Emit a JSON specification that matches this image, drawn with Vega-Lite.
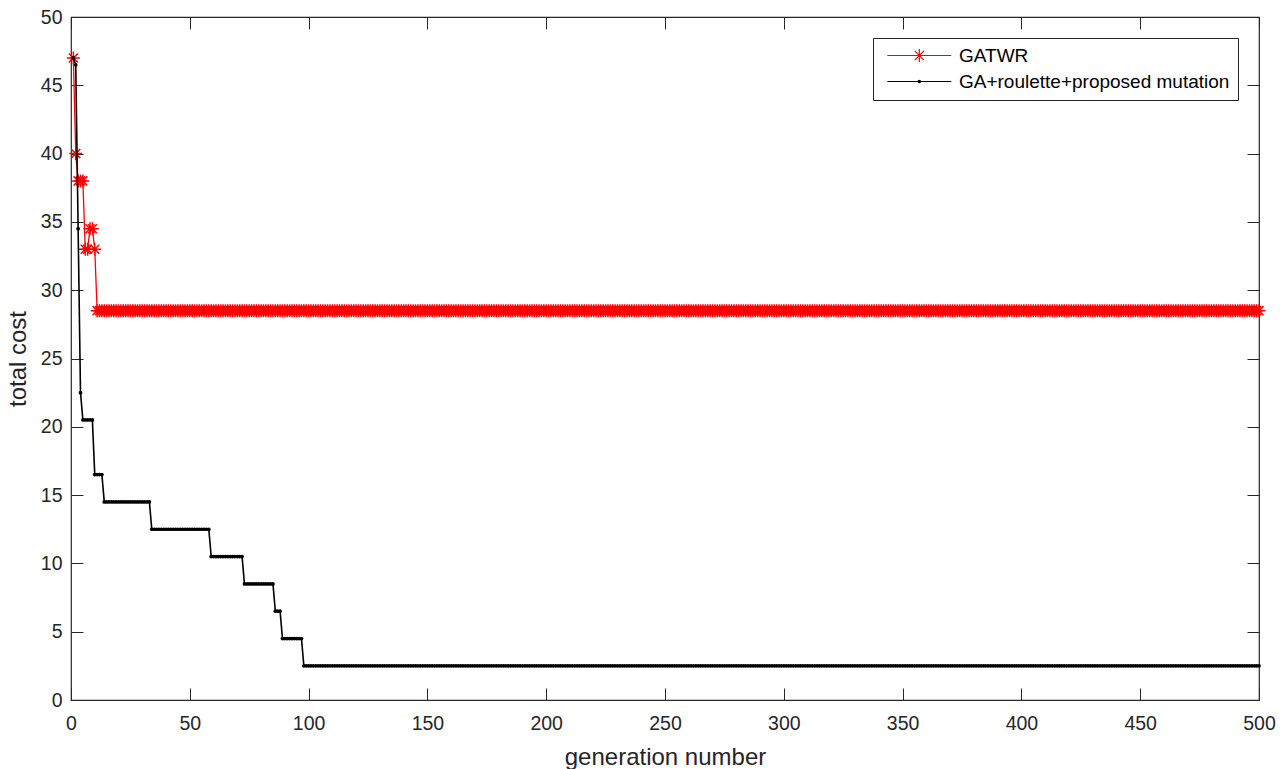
{
"$schema": "https://vega.github.io/schema/vega-lite/v6.json",
"width": 1188, "height": 683,
"autosize": {"type": "none"},
"padding": {"left": 71, "top": 17, "right": 26, "bottom": 69},
"background": "white",
"config": {
 "font": "Liberation Sans",
 "view": {"stroke": "#262626", "strokeWidth": 1.2},
 "axis": {"grid": false, "domain": false, "tickColor": "#262626", "tickSize": -12, "tickWidth": 1, "labelFont": "Liberation Sans", "labelFontSize": 19.5, "labelColor": "#262626", "titleFont": "Liberation Sans", "titleFontSize": 24, "titleColor": "#262626", "titleFontWeight": "normal", "labelFlush": false, "labelOverlap": false, "labelBound": false}
},
"datasets": {
 "series": [{"s": "GATWR"}, {"s": "GA+roulette+proposed mutation"}],
 "gen": [
{"g":1,"a":47,"b":47},{"g":2,"a":40,"b":46.5},{"g":3,"a":38,"b":34.5},{"g":4,"a":38,"b":22.5},{"g":5,"a":38,"b":20.5},{"g":6,"a":33,"b":20.5},{"g":7,"a":33,"b":20.5},{"g":8,"a":34.5,"b":20.5},{"g":9,"a":34.5,"b":20.5},{"g":10,"a":33,"b":16.5},
{"g":11,"a":28.5,"b":16.5},{"g":12,"a":28.5,"b":16.5},{"g":13,"a":28.5,"b":16.5},{"g":14,"a":28.5,"b":14.5},{"g":15,"a":28.5,"b":14.5},{"g":16,"a":28.5,"b":14.5},{"g":17,"a":28.5,"b":14.5},{"g":18,"a":28.5,"b":14.5},{"g":19,"a":28.5,"b":14.5},{"g":20,"a":28.5,"b":14.5},
{"g":21,"a":28.5,"b":14.5},{"g":22,"a":28.5,"b":14.5},{"g":23,"a":28.5,"b":14.5},{"g":24,"a":28.5,"b":14.5},{"g":25,"a":28.5,"b":14.5},{"g":26,"a":28.5,"b":14.5},{"g":27,"a":28.5,"b":14.5},{"g":28,"a":28.5,"b":14.5},{"g":29,"a":28.5,"b":14.5},{"g":30,"a":28.5,"b":14.5},
{"g":31,"a":28.5,"b":14.5},{"g":32,"a":28.5,"b":14.5},{"g":33,"a":28.5,"b":14.5},{"g":34,"a":28.5,"b":12.5},{"g":35,"a":28.5,"b":12.5},{"g":36,"a":28.5,"b":12.5},{"g":37,"a":28.5,"b":12.5},{"g":38,"a":28.5,"b":12.5},{"g":39,"a":28.5,"b":12.5},{"g":40,"a":28.5,"b":12.5},
{"g":41,"a":28.5,"b":12.5},{"g":42,"a":28.5,"b":12.5},{"g":43,"a":28.5,"b":12.5},{"g":44,"a":28.5,"b":12.5},{"g":45,"a":28.5,"b":12.5},{"g":46,"a":28.5,"b":12.5},{"g":47,"a":28.5,"b":12.5},{"g":48,"a":28.5,"b":12.5},{"g":49,"a":28.5,"b":12.5},{"g":50,"a":28.5,"b":12.5},
{"g":51,"a":28.5,"b":12.5},{"g":52,"a":28.5,"b":12.5},{"g":53,"a":28.5,"b":12.5},{"g":54,"a":28.5,"b":12.5},{"g":55,"a":28.5,"b":12.5},{"g":56,"a":28.5,"b":12.5},{"g":57,"a":28.5,"b":12.5},{"g":58,"a":28.5,"b":12.5},{"g":59,"a":28.5,"b":10.5},{"g":60,"a":28.5,"b":10.5},
{"g":61,"a":28.5,"b":10.5},{"g":62,"a":28.5,"b":10.5},{"g":63,"a":28.5,"b":10.5},{"g":64,"a":28.5,"b":10.5},{"g":65,"a":28.5,"b":10.5},{"g":66,"a":28.5,"b":10.5},{"g":67,"a":28.5,"b":10.5},{"g":68,"a":28.5,"b":10.5},{"g":69,"a":28.5,"b":10.5},{"g":70,"a":28.5,"b":10.5},
{"g":71,"a":28.5,"b":10.5},{"g":72,"a":28.5,"b":10.5},{"g":73,"a":28.5,"b":8.5},{"g":74,"a":28.5,"b":8.5},{"g":75,"a":28.5,"b":8.5},{"g":76,"a":28.5,"b":8.5},{"g":77,"a":28.5,"b":8.5},{"g":78,"a":28.5,"b":8.5},{"g":79,"a":28.5,"b":8.5},{"g":80,"a":28.5,"b":8.5},
{"g":81,"a":28.5,"b":8.5},{"g":82,"a":28.5,"b":8.5},{"g":83,"a":28.5,"b":8.5},{"g":84,"a":28.5,"b":8.5},{"g":85,"a":28.5,"b":8.5},{"g":86,"a":28.5,"b":6.5},{"g":87,"a":28.5,"b":6.5},{"g":88,"a":28.5,"b":6.5},{"g":89,"a":28.5,"b":4.5},{"g":90,"a":28.5,"b":4.5},
{"g":91,"a":28.5,"b":4.5},{"g":92,"a":28.5,"b":4.5},{"g":93,"a":28.5,"b":4.5},{"g":94,"a":28.5,"b":4.5},{"g":95,"a":28.5,"b":4.5},{"g":96,"a":28.5,"b":4.5},{"g":97,"a":28.5,"b":4.5},{"g":98,"a":28.5,"b":2.5},{"g":99,"a":28.5,"b":2.5},{"g":100,"a":28.5,"b":2.5},
{"g":101,"a":28.5,"b":2.5},{"g":102,"a":28.5,"b":2.5},{"g":103,"a":28.5,"b":2.5},{"g":104,"a":28.5,"b":2.5},{"g":105,"a":28.5,"b":2.5},{"g":106,"a":28.5,"b":2.5},{"g":107,"a":28.5,"b":2.5},{"g":108,"a":28.5,"b":2.5},{"g":109,"a":28.5,"b":2.5},{"g":110,"a":28.5,"b":2.5},
{"g":111,"a":28.5,"b":2.5},{"g":112,"a":28.5,"b":2.5},{"g":113,"a":28.5,"b":2.5},{"g":114,"a":28.5,"b":2.5},{"g":115,"a":28.5,"b":2.5},{"g":116,"a":28.5,"b":2.5},{"g":117,"a":28.5,"b":2.5},{"g":118,"a":28.5,"b":2.5},{"g":119,"a":28.5,"b":2.5},{"g":120,"a":28.5,"b":2.5},
{"g":121,"a":28.5,"b":2.5},{"g":122,"a":28.5,"b":2.5},{"g":123,"a":28.5,"b":2.5},{"g":124,"a":28.5,"b":2.5},{"g":125,"a":28.5,"b":2.5},{"g":126,"a":28.5,"b":2.5},{"g":127,"a":28.5,"b":2.5},{"g":128,"a":28.5,"b":2.5},{"g":129,"a":28.5,"b":2.5},{"g":130,"a":28.5,"b":2.5},
{"g":131,"a":28.5,"b":2.5},{"g":132,"a":28.5,"b":2.5},{"g":133,"a":28.5,"b":2.5},{"g":134,"a":28.5,"b":2.5},{"g":135,"a":28.5,"b":2.5},{"g":136,"a":28.5,"b":2.5},{"g":137,"a":28.5,"b":2.5},{"g":138,"a":28.5,"b":2.5},{"g":139,"a":28.5,"b":2.5},{"g":140,"a":28.5,"b":2.5},
{"g":141,"a":28.5,"b":2.5},{"g":142,"a":28.5,"b":2.5},{"g":143,"a":28.5,"b":2.5},{"g":144,"a":28.5,"b":2.5},{"g":145,"a":28.5,"b":2.5},{"g":146,"a":28.5,"b":2.5},{"g":147,"a":28.5,"b":2.5},{"g":148,"a":28.5,"b":2.5},{"g":149,"a":28.5,"b":2.5},{"g":150,"a":28.5,"b":2.5},
{"g":151,"a":28.5,"b":2.5},{"g":152,"a":28.5,"b":2.5},{"g":153,"a":28.5,"b":2.5},{"g":154,"a":28.5,"b":2.5},{"g":155,"a":28.5,"b":2.5},{"g":156,"a":28.5,"b":2.5},{"g":157,"a":28.5,"b":2.5},{"g":158,"a":28.5,"b":2.5},{"g":159,"a":28.5,"b":2.5},{"g":160,"a":28.5,"b":2.5},
{"g":161,"a":28.5,"b":2.5},{"g":162,"a":28.5,"b":2.5},{"g":163,"a":28.5,"b":2.5},{"g":164,"a":28.5,"b":2.5},{"g":165,"a":28.5,"b":2.5},{"g":166,"a":28.5,"b":2.5},{"g":167,"a":28.5,"b":2.5},{"g":168,"a":28.5,"b":2.5},{"g":169,"a":28.5,"b":2.5},{"g":170,"a":28.5,"b":2.5},
{"g":171,"a":28.5,"b":2.5},{"g":172,"a":28.5,"b":2.5},{"g":173,"a":28.5,"b":2.5},{"g":174,"a":28.5,"b":2.5},{"g":175,"a":28.5,"b":2.5},{"g":176,"a":28.5,"b":2.5},{"g":177,"a":28.5,"b":2.5},{"g":178,"a":28.5,"b":2.5},{"g":179,"a":28.5,"b":2.5},{"g":180,"a":28.5,"b":2.5},
{"g":181,"a":28.5,"b":2.5},{"g":182,"a":28.5,"b":2.5},{"g":183,"a":28.5,"b":2.5},{"g":184,"a":28.5,"b":2.5},{"g":185,"a":28.5,"b":2.5},{"g":186,"a":28.5,"b":2.5},{"g":187,"a":28.5,"b":2.5},{"g":188,"a":28.5,"b":2.5},{"g":189,"a":28.5,"b":2.5},{"g":190,"a":28.5,"b":2.5},
{"g":191,"a":28.5,"b":2.5},{"g":192,"a":28.5,"b":2.5},{"g":193,"a":28.5,"b":2.5},{"g":194,"a":28.5,"b":2.5},{"g":195,"a":28.5,"b":2.5},{"g":196,"a":28.5,"b":2.5},{"g":197,"a":28.5,"b":2.5},{"g":198,"a":28.5,"b":2.5},{"g":199,"a":28.5,"b":2.5},{"g":200,"a":28.5,"b":2.5},
{"g":201,"a":28.5,"b":2.5},{"g":202,"a":28.5,"b":2.5},{"g":203,"a":28.5,"b":2.5},{"g":204,"a":28.5,"b":2.5},{"g":205,"a":28.5,"b":2.5},{"g":206,"a":28.5,"b":2.5},{"g":207,"a":28.5,"b":2.5},{"g":208,"a":28.5,"b":2.5},{"g":209,"a":28.5,"b":2.5},{"g":210,"a":28.5,"b":2.5},
{"g":211,"a":28.5,"b":2.5},{"g":212,"a":28.5,"b":2.5},{"g":213,"a":28.5,"b":2.5},{"g":214,"a":28.5,"b":2.5},{"g":215,"a":28.5,"b":2.5},{"g":216,"a":28.5,"b":2.5},{"g":217,"a":28.5,"b":2.5},{"g":218,"a":28.5,"b":2.5},{"g":219,"a":28.5,"b":2.5},{"g":220,"a":28.5,"b":2.5},
{"g":221,"a":28.5,"b":2.5},{"g":222,"a":28.5,"b":2.5},{"g":223,"a":28.5,"b":2.5},{"g":224,"a":28.5,"b":2.5},{"g":225,"a":28.5,"b":2.5},{"g":226,"a":28.5,"b":2.5},{"g":227,"a":28.5,"b":2.5},{"g":228,"a":28.5,"b":2.5},{"g":229,"a":28.5,"b":2.5},{"g":230,"a":28.5,"b":2.5},
{"g":231,"a":28.5,"b":2.5},{"g":232,"a":28.5,"b":2.5},{"g":233,"a":28.5,"b":2.5},{"g":234,"a":28.5,"b":2.5},{"g":235,"a":28.5,"b":2.5},{"g":236,"a":28.5,"b":2.5},{"g":237,"a":28.5,"b":2.5},{"g":238,"a":28.5,"b":2.5},{"g":239,"a":28.5,"b":2.5},{"g":240,"a":28.5,"b":2.5},
{"g":241,"a":28.5,"b":2.5},{"g":242,"a":28.5,"b":2.5},{"g":243,"a":28.5,"b":2.5},{"g":244,"a":28.5,"b":2.5},{"g":245,"a":28.5,"b":2.5},{"g":246,"a":28.5,"b":2.5},{"g":247,"a":28.5,"b":2.5},{"g":248,"a":28.5,"b":2.5},{"g":249,"a":28.5,"b":2.5},{"g":250,"a":28.5,"b":2.5},
{"g":251,"a":28.5,"b":2.5},{"g":252,"a":28.5,"b":2.5},{"g":253,"a":28.5,"b":2.5},{"g":254,"a":28.5,"b":2.5},{"g":255,"a":28.5,"b":2.5},{"g":256,"a":28.5,"b":2.5},{"g":257,"a":28.5,"b":2.5},{"g":258,"a":28.5,"b":2.5},{"g":259,"a":28.5,"b":2.5},{"g":260,"a":28.5,"b":2.5},
{"g":261,"a":28.5,"b":2.5},{"g":262,"a":28.5,"b":2.5},{"g":263,"a":28.5,"b":2.5},{"g":264,"a":28.5,"b":2.5},{"g":265,"a":28.5,"b":2.5},{"g":266,"a":28.5,"b":2.5},{"g":267,"a":28.5,"b":2.5},{"g":268,"a":28.5,"b":2.5},{"g":269,"a":28.5,"b":2.5},{"g":270,"a":28.5,"b":2.5},
{"g":271,"a":28.5,"b":2.5},{"g":272,"a":28.5,"b":2.5},{"g":273,"a":28.5,"b":2.5},{"g":274,"a":28.5,"b":2.5},{"g":275,"a":28.5,"b":2.5},{"g":276,"a":28.5,"b":2.5},{"g":277,"a":28.5,"b":2.5},{"g":278,"a":28.5,"b":2.5},{"g":279,"a":28.5,"b":2.5},{"g":280,"a":28.5,"b":2.5},
{"g":281,"a":28.5,"b":2.5},{"g":282,"a":28.5,"b":2.5},{"g":283,"a":28.5,"b":2.5},{"g":284,"a":28.5,"b":2.5},{"g":285,"a":28.5,"b":2.5},{"g":286,"a":28.5,"b":2.5},{"g":287,"a":28.5,"b":2.5},{"g":288,"a":28.5,"b":2.5},{"g":289,"a":28.5,"b":2.5},{"g":290,"a":28.5,"b":2.5},
{"g":291,"a":28.5,"b":2.5},{"g":292,"a":28.5,"b":2.5},{"g":293,"a":28.5,"b":2.5},{"g":294,"a":28.5,"b":2.5},{"g":295,"a":28.5,"b":2.5},{"g":296,"a":28.5,"b":2.5},{"g":297,"a":28.5,"b":2.5},{"g":298,"a":28.5,"b":2.5},{"g":299,"a":28.5,"b":2.5},{"g":300,"a":28.5,"b":2.5},
{"g":301,"a":28.5,"b":2.5},{"g":302,"a":28.5,"b":2.5},{"g":303,"a":28.5,"b":2.5},{"g":304,"a":28.5,"b":2.5},{"g":305,"a":28.5,"b":2.5},{"g":306,"a":28.5,"b":2.5},{"g":307,"a":28.5,"b":2.5},{"g":308,"a":28.5,"b":2.5},{"g":309,"a":28.5,"b":2.5},{"g":310,"a":28.5,"b":2.5},
{"g":311,"a":28.5,"b":2.5},{"g":312,"a":28.5,"b":2.5},{"g":313,"a":28.5,"b":2.5},{"g":314,"a":28.5,"b":2.5},{"g":315,"a":28.5,"b":2.5},{"g":316,"a":28.5,"b":2.5},{"g":317,"a":28.5,"b":2.5},{"g":318,"a":28.5,"b":2.5},{"g":319,"a":28.5,"b":2.5},{"g":320,"a":28.5,"b":2.5},
{"g":321,"a":28.5,"b":2.5},{"g":322,"a":28.5,"b":2.5},{"g":323,"a":28.5,"b":2.5},{"g":324,"a":28.5,"b":2.5},{"g":325,"a":28.5,"b":2.5},{"g":326,"a":28.5,"b":2.5},{"g":327,"a":28.5,"b":2.5},{"g":328,"a":28.5,"b":2.5},{"g":329,"a":28.5,"b":2.5},{"g":330,"a":28.5,"b":2.5},
{"g":331,"a":28.5,"b":2.5},{"g":332,"a":28.5,"b":2.5},{"g":333,"a":28.5,"b":2.5},{"g":334,"a":28.5,"b":2.5},{"g":335,"a":28.5,"b":2.5},{"g":336,"a":28.5,"b":2.5},{"g":337,"a":28.5,"b":2.5},{"g":338,"a":28.5,"b":2.5},{"g":339,"a":28.5,"b":2.5},{"g":340,"a":28.5,"b":2.5},
{"g":341,"a":28.5,"b":2.5},{"g":342,"a":28.5,"b":2.5},{"g":343,"a":28.5,"b":2.5},{"g":344,"a":28.5,"b":2.5},{"g":345,"a":28.5,"b":2.5},{"g":346,"a":28.5,"b":2.5},{"g":347,"a":28.5,"b":2.5},{"g":348,"a":28.5,"b":2.5},{"g":349,"a":28.5,"b":2.5},{"g":350,"a":28.5,"b":2.5},
{"g":351,"a":28.5,"b":2.5},{"g":352,"a":28.5,"b":2.5},{"g":353,"a":28.5,"b":2.5},{"g":354,"a":28.5,"b":2.5},{"g":355,"a":28.5,"b":2.5},{"g":356,"a":28.5,"b":2.5},{"g":357,"a":28.5,"b":2.5},{"g":358,"a":28.5,"b":2.5},{"g":359,"a":28.5,"b":2.5},{"g":360,"a":28.5,"b":2.5},
{"g":361,"a":28.5,"b":2.5},{"g":362,"a":28.5,"b":2.5},{"g":363,"a":28.5,"b":2.5},{"g":364,"a":28.5,"b":2.5},{"g":365,"a":28.5,"b":2.5},{"g":366,"a":28.5,"b":2.5},{"g":367,"a":28.5,"b":2.5},{"g":368,"a":28.5,"b":2.5},{"g":369,"a":28.5,"b":2.5},{"g":370,"a":28.5,"b":2.5},
{"g":371,"a":28.5,"b":2.5},{"g":372,"a":28.5,"b":2.5},{"g":373,"a":28.5,"b":2.5},{"g":374,"a":28.5,"b":2.5},{"g":375,"a":28.5,"b":2.5},{"g":376,"a":28.5,"b":2.5},{"g":377,"a":28.5,"b":2.5},{"g":378,"a":28.5,"b":2.5},{"g":379,"a":28.5,"b":2.5},{"g":380,"a":28.5,"b":2.5},
{"g":381,"a":28.5,"b":2.5},{"g":382,"a":28.5,"b":2.5},{"g":383,"a":28.5,"b":2.5},{"g":384,"a":28.5,"b":2.5},{"g":385,"a":28.5,"b":2.5},{"g":386,"a":28.5,"b":2.5},{"g":387,"a":28.5,"b":2.5},{"g":388,"a":28.5,"b":2.5},{"g":389,"a":28.5,"b":2.5},{"g":390,"a":28.5,"b":2.5},
{"g":391,"a":28.5,"b":2.5},{"g":392,"a":28.5,"b":2.5},{"g":393,"a":28.5,"b":2.5},{"g":394,"a":28.5,"b":2.5},{"g":395,"a":28.5,"b":2.5},{"g":396,"a":28.5,"b":2.5},{"g":397,"a":28.5,"b":2.5},{"g":398,"a":28.5,"b":2.5},{"g":399,"a":28.5,"b":2.5},{"g":400,"a":28.5,"b":2.5},
{"g":401,"a":28.5,"b":2.5},{"g":402,"a":28.5,"b":2.5},{"g":403,"a":28.5,"b":2.5},{"g":404,"a":28.5,"b":2.5},{"g":405,"a":28.5,"b":2.5},{"g":406,"a":28.5,"b":2.5},{"g":407,"a":28.5,"b":2.5},{"g":408,"a":28.5,"b":2.5},{"g":409,"a":28.5,"b":2.5},{"g":410,"a":28.5,"b":2.5},
{"g":411,"a":28.5,"b":2.5},{"g":412,"a":28.5,"b":2.5},{"g":413,"a":28.5,"b":2.5},{"g":414,"a":28.5,"b":2.5},{"g":415,"a":28.5,"b":2.5},{"g":416,"a":28.5,"b":2.5},{"g":417,"a":28.5,"b":2.5},{"g":418,"a":28.5,"b":2.5},{"g":419,"a":28.5,"b":2.5},{"g":420,"a":28.5,"b":2.5},
{"g":421,"a":28.5,"b":2.5},{"g":422,"a":28.5,"b":2.5},{"g":423,"a":28.5,"b":2.5},{"g":424,"a":28.5,"b":2.5},{"g":425,"a":28.5,"b":2.5},{"g":426,"a":28.5,"b":2.5},{"g":427,"a":28.5,"b":2.5},{"g":428,"a":28.5,"b":2.5},{"g":429,"a":28.5,"b":2.5},{"g":430,"a":28.5,"b":2.5},
{"g":431,"a":28.5,"b":2.5},{"g":432,"a":28.5,"b":2.5},{"g":433,"a":28.5,"b":2.5},{"g":434,"a":28.5,"b":2.5},{"g":435,"a":28.5,"b":2.5},{"g":436,"a":28.5,"b":2.5},{"g":437,"a":28.5,"b":2.5},{"g":438,"a":28.5,"b":2.5},{"g":439,"a":28.5,"b":2.5},{"g":440,"a":28.5,"b":2.5},
{"g":441,"a":28.5,"b":2.5},{"g":442,"a":28.5,"b":2.5},{"g":443,"a":28.5,"b":2.5},{"g":444,"a":28.5,"b":2.5},{"g":445,"a":28.5,"b":2.5},{"g":446,"a":28.5,"b":2.5},{"g":447,"a":28.5,"b":2.5},{"g":448,"a":28.5,"b":2.5},{"g":449,"a":28.5,"b":2.5},{"g":450,"a":28.5,"b":2.5},
{"g":451,"a":28.5,"b":2.5},{"g":452,"a":28.5,"b":2.5},{"g":453,"a":28.5,"b":2.5},{"g":454,"a":28.5,"b":2.5},{"g":455,"a":28.5,"b":2.5},{"g":456,"a":28.5,"b":2.5},{"g":457,"a":28.5,"b":2.5},{"g":458,"a":28.5,"b":2.5},{"g":459,"a":28.5,"b":2.5},{"g":460,"a":28.5,"b":2.5},
{"g":461,"a":28.5,"b":2.5},{"g":462,"a":28.5,"b":2.5},{"g":463,"a":28.5,"b":2.5},{"g":464,"a":28.5,"b":2.5},{"g":465,"a":28.5,"b":2.5},{"g":466,"a":28.5,"b":2.5},{"g":467,"a":28.5,"b":2.5},{"g":468,"a":28.5,"b":2.5},{"g":469,"a":28.5,"b":2.5},{"g":470,"a":28.5,"b":2.5},
{"g":471,"a":28.5,"b":2.5},{"g":472,"a":28.5,"b":2.5},{"g":473,"a":28.5,"b":2.5},{"g":474,"a":28.5,"b":2.5},{"g":475,"a":28.5,"b":2.5},{"g":476,"a":28.5,"b":2.5},{"g":477,"a":28.5,"b":2.5},{"g":478,"a":28.5,"b":2.5},{"g":479,"a":28.5,"b":2.5},{"g":480,"a":28.5,"b":2.5},
{"g":481,"a":28.5,"b":2.5},{"g":482,"a":28.5,"b":2.5},{"g":483,"a":28.5,"b":2.5},{"g":484,"a":28.5,"b":2.5},{"g":485,"a":28.5,"b":2.5},{"g":486,"a":28.5,"b":2.5},{"g":487,"a":28.5,"b":2.5},{"g":488,"a":28.5,"b":2.5},{"g":489,"a":28.5,"b":2.5},{"g":490,"a":28.5,"b":2.5},
{"g":491,"a":28.5,"b":2.5},{"g":492,"a":28.5,"b":2.5},{"g":493,"a":28.5,"b":2.5},{"g":494,"a":28.5,"b":2.5},{"g":495,"a":28.5,"b":2.5},{"g":496,"a":28.5,"b":2.5},{"g":497,"a":28.5,"b":2.5},{"g":498,"a":28.5,"b":2.5},{"g":499,"a":28.5,"b":2.5},{"g":500,"a":28.5,"b":2.5}
 ]
},
"layer": [
 {
  "data": {"name": "gen"},
  "encoding": {
   "x": {"field": "g", "type": "quantitative", "scale": {"domain": [0, 500], "nice": false, "zero": false},
         "axis": {"values": [0,50,100,150,200,250,300,350,400,450,500], "title": "generation number", "titleX": 594, "titleY": 64, "titleBaseline": "alphabetic", "titleAlign": "center", "labelPadding": 26, "labelBaseline": "top", "labelAlign": "center"}}
  },
  "layer": [
   {"mark": {"type": "line", "color": "#FF0000", "strokeWidth": 1.3, "clip": true},
    "encoding": {"y": {"field": "a", "type": "quantitative", "scale": {"domain": [0, 50], "nice": false},
      "axis": {"values": [0,5,10,15,20,25,30,35,40,45,50], "title": "total cost", "titleX": -46, "titleY": 341.5, "titleAngle": 270, "titleBaseline": "alphabetic", "titleAlign": "center", "labelPadding": 21, "labelBaseline": "middle", "labelAlign": "right"}}}},
   {"mark": {"type": "point", "shape": "M-1,0H1M0,-1V1M-0.7,-0.7L0.7,0.7M-0.7,0.7L0.7,-0.7", "size": 169, "filled": false, "color": "#FF0000", "strokeWidth": 1.5, "opacity": 1},
    "encoding": {"y": {"field": "a", "type": "quantitative", "scale": {"domain": [0, 50], "nice": false},
      "axis": {"values": [0,5,10,15,20,25,30,35,40,45,50], "title": "total cost", "titleX": -46, "titleY": 341.5, "titleAngle": 270, "titleBaseline": "alphabetic", "titleAlign": "center", "labelPadding": 21, "labelBaseline": "middle", "labelAlign": "right"}}}},
   {"mark": {"type": "line", "color": "#000000", "strokeWidth": 1.6},
    "encoding": {"y": {"field": "b", "type": "quantitative", "scale": {"domain": [0, 50], "nice": false},
      "axis": {"values": [0,5,10,15,20,25,30,35,40,45,50], "title": "total cost", "titleX": -46, "titleY": 341.5, "titleAngle": 270, "titleBaseline": "alphabetic", "titleAlign": "center", "labelPadding": 21, "labelBaseline": "middle", "labelAlign": "right"}}}},
   {"mark": {"type": "point", "shape": "circle", "size": 14, "filled": true, "color": "#000000", "opacity": 1},
    "encoding": {"y": {"field": "b", "type": "quantitative", "scale": {"domain": [0, 50], "nice": false},
      "axis": {"values": [0,5,10,15,20,25,30,35,40,45,50], "title": "total cost", "titleX": -46, "titleY": 341.5, "titleAngle": 270, "titleBaseline": "alphabetic", "titleAlign": "center", "labelPadding": 21, "labelBaseline": "middle", "labelAlign": "right"}}}}
  ]
 },
 {
  "data": {"name": "gen"},
  "mark": {"type": "point", "opacity": 0},
  "encoding": {
   "x": {"field": "g", "type": "quantitative", "axis": {"orient": "top", "labels": false, "title": null, "values": [0,50,100,150,200,250,300,350,400,450,500]}},
   "y": {"field": "b", "type": "quantitative", "axis": {"orient": "right", "labels": false, "title": null, "values": [0,5,10,15,20,25,30,35,40,45,50]}}
  }
 },
 {
  "data": {"name": "series"},
  "mark": {"type": "point", "filled": false, "opacity": 0, "size": 256},
  "encoding": {
   "color": {"field": "s", "type": "nominal",
     "scale": {"domain": ["GATWR", "GA+roulette+proposed mutation"], "range": ["#FF0000", "#000000"]},
     "legend": {"title": null, "orient": "top-right", "offset": 21, "padding": 8, "rowPadding": 6, "labelOffset": 59, "labelFontSize": 19, "labelFont": "Liberation Sans", "labelColor": "#000000", "labelLimit": 400, "symbolStrokeWidth": 1.2, "symbolOpacity": 1, "symbolSize": 256, "strokeColor": "#262626", "fillColor": "white",
       "encode": {"symbols": {"update": {"opacity": {"value": 1}}}}}},
   "shape": {"field": "s", "type": "nominal",
     "scale": {"domain": ["GATWR", "GA+roulette+proposed mutation"], "range": ["M-0.4,0H7.6M3.6,-0.8V0.8M3.03,-0.57L4.17,0.57M3.03,0.57L4.17,-0.57", "M-0.4,0H7.6M3.6,-0.15A0.15,0.15,0,1,1,3.6,0.15A0.15,0.15,0,1,1,3.6,-0.15"]},
     "legend": {"title": null, "orient": "top-right", "offset": 21, "padding": 8, "rowPadding": 6, "labelOffset": 59, "labelFontSize": 19, "labelFont": "Liberation Sans", "labelColor": "#000000", "labelLimit": 400, "symbolStrokeWidth": 1.2, "symbolOpacity": 1, "symbolSize": 256, "strokeColor": "#262626", "fillColor": "white",
       "encode": {"symbols": {"update": {"opacity": {"value": 1}}}}}}
  }
 }
],
"resolve": {"axis": {"x": "independent", "y": "independent"}}
}
